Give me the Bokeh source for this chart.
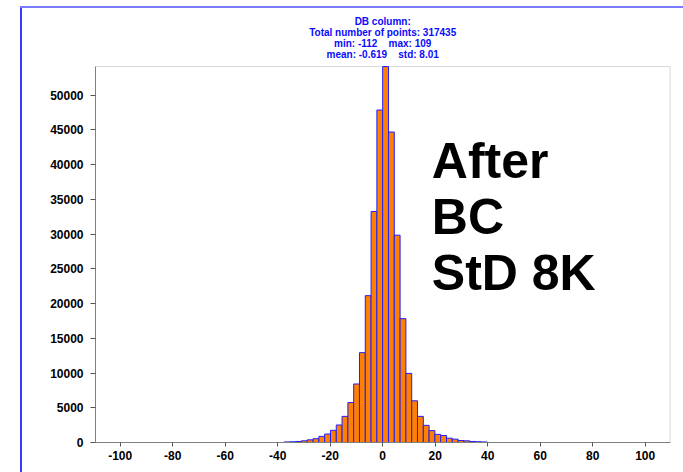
from bokeh.plotting import figure
from bokeh.models import Range1d, FixedTicker, Label, BoxAnnotation
from bokeh.embed import file_html
from bokeh.resources import INLINE

# ---- data ----
bin_width = 2.21
first_bin_index = -17
counts = [80, 110, 150, 245, 380, 550, 880, 1220, 1750, 2520, 3760, 5750, 8420,
          12930, 21130, 33240, 47840, 54100, 44670, 29830, 17820, 9940, 6000,
          3760, 2470, 1710, 1170, 1010, 620, 480, 290, 240, 150, 110, 80]
x_ticks = [-100, -80, -60, -40, -20, 0, 20, 40, 60, 80, 100]
x_tick_labels = ["-100", "-80", "-60", "-40", "-20", "0", "20", "40", "60", "80", "100"]
y_ticks = [0, 5000, 10000, 15000, 20000, 25000, 30000, 35000, 40000, 45000, 50000]
y_tick_labels = ["0", "5000", "10000", "15000", "20000", "25000", "30000", "35000",
                 "40000", "45000", "50000"]
x_axis_min, x_axis_max = -109.4, 109.5
y_axis_max = 54100
title_lines = ["DB column:", "Total number of points: 317435",
               "min: -112\u00a0\u00a0\u00a0\u00a0max: 109",
               "mean: -0.619\u00a0\u00a0\u00a0\u00a0std: 8.01"]
title_y = [60620, 58950, 57370, 55790]
note_lines = ["After", "BC", "StD 8K"]
note_y = [40550, 32500, 24450]

lefts = [(first_bin_index + i) * bin_width for i in range(len(counts))]
rights = [l + bin_width for l in lefts]

FONT = "Liberation Sans"

# frame covers the title area too; the axis box is drawn up to y_axis_max
p = figure(width=683, height=472, output_backend="svg", toolbar_location=None,
           x_range=Range1d(x_axis_min, 110.4), y_range=Range1d(0, 63600),
           min_border_left=95, min_border_right=11, min_border_top=0, min_border_bottom=30)
p.xgrid.visible = False
p.ygrid.visible = False
p.outline_line_color = None
p.background_fill_alpha = 0
p.border_fill_alpha = 0
# blue slide frame lines (decoration around the chart)
p.styles = {
    "background-color": "white",
    "background-image": "linear-gradient(#7a7aff,#7a7aff), linear-gradient(#3a3aff,#3a3aff)",
    "background-size": "663px 2px, 2px 466px",
    "background-position": "20px 6px, 20px 6px",
    "background-repeat": "no-repeat",
}

p.add_layout(BoxAnnotation(left=x_axis_min, right=x_axis_max, bottom=0, top=y_axis_max,
                           fill_alpha=0, line_color="#808080", line_width=1, level="underlay"))

p.quad(left=lefts, right=rights, bottom=0, top=counts,
       fill_color="#ff8000", line_color="#1f1fff", line_width=1)

for ax in (p.xaxis[0], p.yaxis[0]):
    ax.axis_line_color = "#808080"
    ax.major_tick_line_color = "#555555"
    ax.minor_tick_line_color = None
    ax.major_tick_in = 0
    ax.major_label_text_font = FONT
    ax.major_label_text_font_style = "bold"
    ax.major_label_text_font_size = "12px"
    ax.major_label_text_color = "black"

p.xaxis.ticker = FixedTicker(ticks=x_ticks)
p.xaxis.major_label_overrides = {t: s for t, s in zip(x_ticks, x_tick_labels)}
p.xaxis.bounds = (x_axis_min, x_axis_max)
p.xaxis.major_tick_out = 4
p.xaxis.major_label_standoff = 4
p.yaxis.ticker = FixedTicker(ticks=y_ticks)
p.yaxis.major_label_overrides = {t: s for t, s in zip(y_ticks, y_tick_labels)}
p.yaxis.bounds = (0, y_axis_max)
p.yaxis.major_tick_out = 5
p.yaxis.major_label_standoff = 7

for txt, yv in zip(title_lines, title_y):
    p.add_layout(Label(x=0, y=yv, text=txt, text_font=FONT, text_font_size="10px",
                       text_font_style="bold", text_color="#0a0aff",
                       text_align="center", text_baseline="middle"))

for txt, yv in zip(note_lines, note_y):
    p.add_layout(Label(x=18.7, y=yv, text=txt, text_font=FONT, text_font_size="50px",
                       text_font_style="bold", text_color="black", text_baseline="alphabetic"))

open("out.html", "w").write(file_html(p, INLINE))
